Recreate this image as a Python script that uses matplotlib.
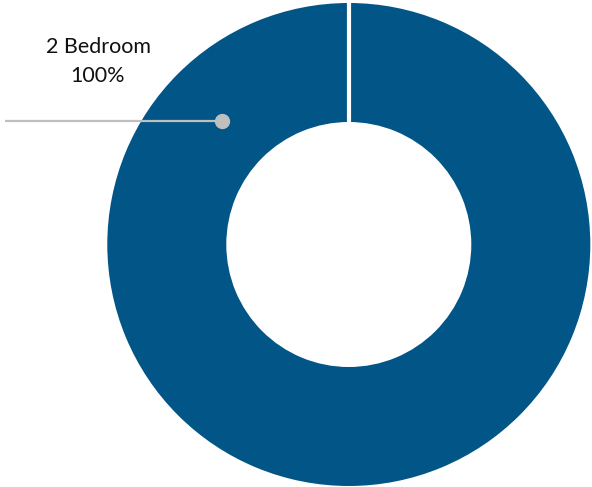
import matplotlib
matplotlib.use("Agg")
import matplotlib.pyplot as plt
import numpy as np

# data
categories = ["2 Bedroom"]
values = [1]
colors = ["#025587"]

W, H = 592, 487
fig = plt.figure(figsize=(W / 100, H / 100), dpi=100)
ax = fig.add_axes([0, 0, 1, 1])

# donut, in pixel coords (y up)
cx, cy, r, r_in = 348.8, H - 244.5, 241.5, 122.5
wedges, _ = ax.pie(values, colors=colors, startangle=90, counterclock=False,
                   center=(cx, cy), radius=r,
                   wedgeprops=dict(width=r - r_in, linewidth=0))

# white separators at slice boundaries
for w in wedges:
    a = np.deg2rad(w.theta1)
    ax.plot([cx + r_in * np.cos(a), cx + (r + 2) * np.cos(a)],
            [cy + r_in * np.sin(a), cy + (r + 2) * np.sin(a)],
            color="white", lw=3, solid_capstyle="butt")

ax.set_xlim(0, W)
ax.set_ylim(0, H)
ax.set_aspect("equal")
ax.axis("off")

# leader line + label
pct = values[0] / sum(values) * 100
ax.plot([5, 222], [H - 121, H - 121], color="#BFBFBF", lw=1.6, solid_capstyle="butt")
ax.plot([222], [H - 121], "o", color="#BFBFBF", ms=10)
ax.text(98, H - 61.5, f"{categories[0]}\n{pct:.0f}%", ha="center", va="center",
        fontsize=15.5, family=["Lato", "DejaVu Sans"], color="#111111", linespacing=1.55)

fig.savefig("out.png", dpi=100)
